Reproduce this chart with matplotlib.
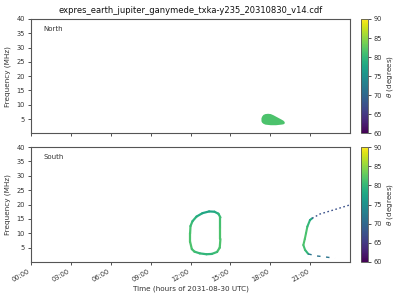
import matplotlib
matplotlib.use("Agg")
import matplotlib.pyplot as plt
import numpy as np
from matplotlib.collections import LineCollection
from matplotlib.colors import Normalize

# North: emission blob (time in hours, lower / upper frequency in MHz)
north_t = [17.3, 17.35, 17.45, 17.6, 17.8, 18.0, 18.2, 18.4, 18.6, 18.8, 18.95, 19.05]
north_fmin = [4.4, 3.9, 3.5, 3.2, 3.1, 3.0, 3.0, 3.0, 3.1, 3.2, 3.3, 3.6]
north_fmax = [5.4, 6.0, 6.6, 6.9, 7.0, 6.9, 6.5, 6.0, 5.5, 5.0, 4.6, 4.1]
north_theta = 81.5

# South: closed loop around 12-14 h
loop_t = [12.1, 11.97, 11.97, 12.0, 12.15, 12.45, 12.9, 13.4, 13.8, 14.1,
          14.25, 14.25, 14.25, 14.2, 14.0, 13.6, 13.2, 12.7, 12.3, 12.1]
loop_f = [4.5, 7.0, 10.0, 12.5, 14.2, 15.8, 17.0, 17.6, 17.5, 16.8,
          15.5, 12.0, 8.0, 5.0, 3.5, 2.8, 2.7, 3.0, 3.6, 4.5]
loop_theta = [81.5, 81.5, 81.5, 81, 80, 79, 78, 77.5, 78, 79,
              80.5, 81.5, 81.5, 81.5, 81, 80, 79.5, 80, 80.5, 81.5]

# South: open arc starting near 20.5 h
arc_t = [20.86, 20.62, 20.49, 20.6, 20.69, 20.79, 20.99, 21.15]
arc_f = [2.8, 4.2, 5.9, 8.0, 10.0, 12.3, 14.6, 15.2]
arc_theta = [79, 80.5, 81.5, 81.5, 81.5, 81, 79, 77]

# South: sparse tails of the arc
tail_up_t = [21.15, 21.74, 22.75, 23.87, 24.0]
tail_up_f = [15.2, 16.7, 18.1, 19.7, 19.9]
tail_low_t = [20.86, 21.5, 21.99, 22.87]
tail_low_f = [2.8, 2.1, 1.85, 1.3]
tail_theta = 67.5

hours = [0, 3, 6, 9, 12, 15, 18, 21]
freq_ticks = [5, 10, 15, 20, 25, 30, 35, 40]

cmap = plt.get_cmap("viridis")
norm = Normalize(vmin=60, vmax=90)

plt.rcParams['font.family'] = 'DejaVu Sans'
plt.rcParams['axes.edgecolor'] = '#555555'
plt.rcParams['axes.linewidth'] = 0.8

fig = plt.figure(figsize=(4, 3), dpi=100)
ax1 = fig.add_axes([0.0775, 0.5557, 0.7975, 0.381])
ax2 = fig.add_axes([0.0775, 0.1267, 0.7975, 0.383])
cax1 = fig.add_axes([0.9025, 0.5557, 0.0165, 0.381])
cax2 = fig.add_axes([0.9025, 0.1267, 0.0165, 0.383])


def colored_line(ax, t, f, theta, lw=1.6):
    pts = np.column_stack([t, f])
    segs = np.stack([pts[:-1], pts[1:]], axis=1)
    vals = (np.array(theta[:-1]) + np.array(theta[1:])) / 2
    lc = LineCollection(segs, cmap=cmap, norm=norm, linewidths=lw, capstyle='round')
    lc.set_array(vals)
    ax.add_collection(lc)


# North panel
ax1.fill_between(north_t, north_fmin, north_fmax, color=cmap(norm(north_theta)),
                 linewidth=0)

# South panel
colored_line(ax2, loop_t, loop_f, loop_theta, lw=1.6)
colored_line(ax2, arc_t, arc_f, arc_theta, lw=1.5)
ax2.plot(tail_up_t, tail_up_f, color=cmap(norm(tail_theta)), lw=1.0,
         linestyle=(0, (1.2, 1.8)))
ax2.plot(tail_low_t, tail_low_f, color=cmap(norm(tail_theta + 4)), lw=1.0,
         linestyle=(0, (2.5, 4)))

for ax, name in [(ax1, 'North'), (ax2, 'South')]:
    ax.set_xlim(0, 24)
    ax.set_ylim(0, 40)
    ax.set_yticks(freq_ticks)
    ax.set_xticks(hours)
    ax.tick_params(labelsize=4.8, length=2.5, width=0.6, colors='#333333', pad=2)
    ax.set_ylabel('Frequency (MHz)', fontsize=5.2, color='#333333', labelpad=4)
    ax.text(0.04, 0.91, name, transform=ax.transAxes, fontsize=5,
            color='#333333', va='center')

ax1.tick_params(labelbottom=False)
ax2.set_xticklabels([f"{h:02d}:00" for h in hours], rotation=30, ha='right')
ax2.set_xlabel('Time (hours of 2031-08-30 UTC)', fontsize=5.2, color='#333333',
               labelpad=2)
ax1.set_title('expres_earth_jupiter_ganymede_txka-y235_20310830_v14.cdf',
              fontsize=6, color='#111111', pad=4)

sm = plt.cm.ScalarMappable(norm=norm, cmap=cmap)
for cax in (cax1, cax2):
    cb = fig.colorbar(sm, cax=cax)
    cb.set_ticks([60, 65, 70, 75, 80, 85, 90])
    cb.ax.tick_params(labelsize=4.8, length=2.5, width=0.6, colors='#333333', pad=2)
    cb.set_label(r'$\theta$ (degrees)', fontsize=5.2, color='#333333', labelpad=2)
    cb.outline.set_linewidth(0.6)

fig.savefig('out.png', dpi=100)
